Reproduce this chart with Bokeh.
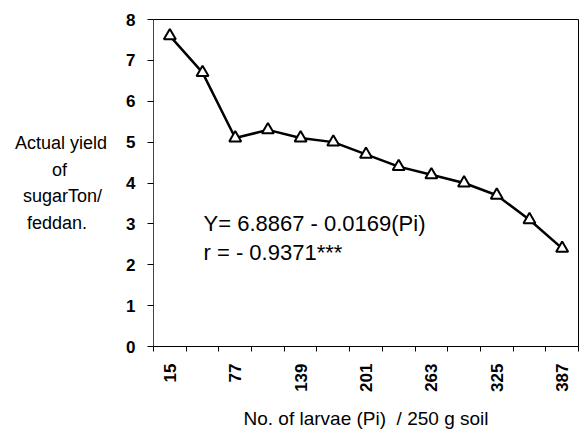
from bokeh.plotting import figure
from bokeh.models import Range1d, FixedTicker, Label, ColumnDataSource
from bokeh.embed import file_html
from bokeh.resources import INLINE

larvae = [15, 46, 77, 108, 139, 170, 201, 232, 263, 294, 325, 356, 387]
yield_ton = [7.6, 6.7, 5.1, 5.3, 5.1, 5.0, 4.7, 4.4, 4.2, 4.0, 3.7, 3.1, 2.4]
shown_labels = [15, 77, 139, 201, 263, 325, 387]
y_ticks = [0, 1, 2, 3, 4, 5, 6, 7, 8]
y_title_lines = ["Actual yield", "of", "sugarTon/", "feddan."]
x_title = "No. of larvae (Pi)\u00a0 / 250 g soil"
eq_line1 = "Y= 6.8867 - 0.0169(Pi)"
eq_line2 = "r = - 0.9371***"

pos = [i + 0.5 for i in range(len(larvae))]
src = ColumnDataSource(dict(x=pos, y=yield_ton))

p = figure(width=579, height=433, output_backend="svg", toolbar_location=None,
           x_range=Range1d(0, len(larvae)), y_range=Range1d(0, 8),
           min_border_left=153, min_border_right=1, min_border_top=19,
           min_border_bottom=87)
p.background_fill_color = "white"
p.border_fill_color = "white"
p.outline_line_color = "black"
p.grid.visible = False

p.line("x", "y", source=src, line_color="black", line_width=2.5)
p.scatter("x", "y", source=src, marker="triangle", size=12,
          fill_color="white", line_color="black", line_width=2)

xa = p.xaxis[0]
xa.ticker = FixedTicker(ticks=pos, minor_ticks=list(range(len(larvae) + 1)))
xa.major_label_overrides = {pos[i]: (str(v) if v in shown_labels else "")
                            for i, v in enumerate(larvae)}
xa.major_tick_line_color = None
xa.minor_tick_line_color = "black"
xa.minor_tick_out = 5
xa.minor_tick_in = 0
xa.major_label_orientation = 1.5708
xa.major_label_text_font = "Liberation Sans"
xa.major_label_text_font_size = "17px"
xa.major_label_text_font_style = "bold"
xa.major_label_text_color = "black"
xa.major_label_standoff = 11
xa.axis_label = x_title
xa.axis_label_text_font = "Liberation Sans"
xa.axis_label_text_font_size = "19px"
xa.axis_label_text_font_style = "normal"
xa.axis_label_text_color = "black"
xa.axis_label_standoff = 13
xa.axis_line_color = "black"

# centre the lines of the horizontal y title by padding (axis label is right-aligned)
pad = {"Actual yield": 0, "of": 8, "sugarTon/": 1, "feddan.": 4}
ya = p.yaxis[0]
ya.ticker = FixedTicker(ticks=y_ticks)
ya.minor_tick_line_color = None
ya.major_tick_out = 6
ya.major_tick_in = 0
ya.major_tick_line_color = "black"
ya.major_label_text_font = "Liberation Sans"
ya.major_label_text_font_size = "17px"
ya.major_label_text_font_style = "bold"
ya.major_label_text_color = "black"
ya.major_label_standoff = 12
ya.axis_line_color = "#444444"
ya.axis_label = "\n".join(s + "\u00a0" * pad[s] for s in y_title_lines)
ya.axis_label_orientation = "horizontal"
ya.axis_label_text_font = "Liberation Sans"
ya.axis_label_text_font_size = "18px"
ya.axis_label_text_font_style = "normal"
ya.axis_label_text_color = "black"
ya.axis_label_text_line_height = 1.33
ya.axis_label_standoff = 16

for txt, yy in [(eq_line1, 3.01), (eq_line2, 2.30)]:
    p.add_layout(Label(x=1.53, y=yy, text=txt, text_font="Liberation Sans",
                       text_font_size="22px", text_color="black",
                       text_baseline="alphabetic"))

open("out.html", "w").write(file_html(p, INLINE))
